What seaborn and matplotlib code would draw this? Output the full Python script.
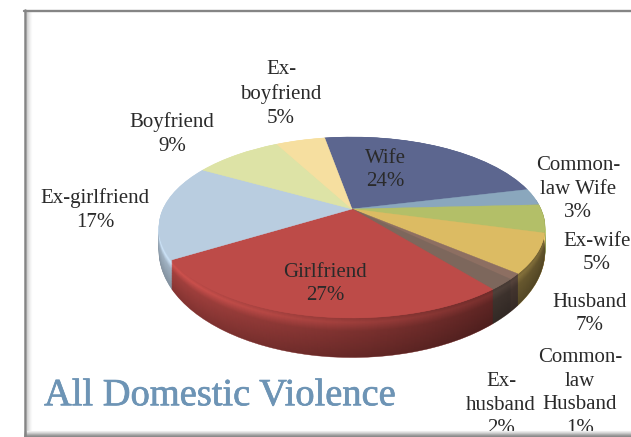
import numpy as np
import seaborn as sns
import matplotlib
matplotlib.use("Agg")
import matplotlib.pyplot as plt
import matplotlib.patheffects as pe
from matplotlib.path import Path
from matplotlib.transforms import Transform

# slices, clockwise from the top
names = ["Wife", "Common-\nlaw Wife", "Ex-wife", "Husband", "Common-\nlaw\nHusband",
         "Ex-\nhusband", "Girlfriend", "Ex-girlfriend", "Boyfriend", "Ex-\nboyfriend"]
shares = [24, 3, 5, 7, 1, 2, 27, 17, 9, 5]
colors = ["#5c668f", "#8aa7bd", "#b3bf68", "#dcbb63", "#8d6f62",
          "#7d675c", "#bd4b48", "#b9cde0", "#dde3a6", "#f6dfa0"]
title = "All Domestic Violence"

sns.set_theme(style="white", font="Liberation Serif")
pal = sns.color_palette(colors)

DROP = 20
GROW = 0.18


# perspective view of the unit circle pie, in pixel coordinates
class Tilt(Transform):
    input_dims = output_dims = 2
    is_separable = False
    has_inverse = False

    def __init__(self, drop=0.0, grow=0.0):
        super().__init__()
        self.drop = drop
        self.grow = grow

    def transform_non_affine(self, xy):
        xy = np.asarray(xy)
        w = 1 + 0.204 * xy[:, 1]
        return np.column_stack([352 + 189 * xy[:, 0] / w,
                                209 + self.drop - 86.7 * (1 + self.grow) * xy[:, 1] / w])


fig = plt.figure(figsize=(6.31, 4.37), dpi=100)
ax = fig.add_axes([0, 0, 1, 1])


def draw_pie(cols, tilt, z):
    wedges, _ = ax.pie(shares, colors=cols, startangle=100, counterclock=False)
    for w in wedges:
        w.set_edgecolor(w.get_facecolor())
        w.set_linewidth(0.3)
        w.set_transform(tilt + ax.transData)
        w.set_zorder(z)
    return wedges


# side of the pie: stacked copies, bright rim then darker going down
layers = 40
for i in range(layers, 0, -1):
    t = i / layers
    k = np.interp(t, [0, 0.12, 0.35, 1], [1.0, 1.12, 0.88, 0.72])
    cols = [tuple(min(1, c * k) for c in p) for p in pal]
    draw_pie(cols, Tilt(DROP * t, GROW * t), 2 + (layers - i) * 0.01)

# darker towards the right along the side
ang = np.radians(np.linspace(165, 375, 200))
ring = np.column_stack([np.cos(ang), np.sin(ang)])
band = np.vstack([Tilt().transform(ring), Tilt(DROP, GROW).transform(ring)[::-1]])
shade = np.zeros((2, 256, 4))
shade[:, :, 3] = np.interp(np.linspace(0, 1, 256), [0, 0.1, 0.5, 1], [0, 0.05, 0.25, 0.5])
im = ax.imshow(shade, extent=(159, 546, 360, 200), aspect="auto", zorder=3)
im.set_clip_path(Path(band), ax.transData)

# top face
draw_pie(pal, Tilt(), 4)

ax.set_xlim(0, 631)
ax.set_ylim(437, 0)
ax.set_aspect("auto")
ax.axis("off")

# data labels
label_pos = [(385, 170), (578, 189), (597, 253), (590, 314), (580, 393),
             (501, 405), (325, 284), (95, 210), (172, 134), (281, 94)]
for name, val, (x, y) in zip(names, shares, label_pos):
    ax.text(x, y, f"{name}\n{val}%", ha="center", va="center", fontsize=15,
            color="#2a2a2a", linespacing=1.32, zorder=6)

ax.text(44, 396, title, ha="left", va="center", fontsize=27.7, color="#6d94b5", zorder=6,
        path_effects=[pe.withStroke(linewidth=0.5, foreground="#6d94b5")])

# picture frame, with a soft inner shadow
for d, g in zip([1, 2, 3, 4, 5], ["#d2d2d2", "#dedede", "#e9e9e9", "#f2f2f2", "#f9f9f9"]):
    ax.plot([26 + d] * 2, [12, 430], color=g, lw=0.8, zorder=5)
for y, g in zip([430, 431, 432, 433, 434, 435, 436],
                ["#ececec", "#dcdcdc", "#c8c8c8", "#b0b0b0", "#9a9a9a", "#8c8c8c", "#888888"]):
    ax.plot([24, 631], [y + 0.5] * 2, color=g, lw=0.8, zorder=7)
ax.plot([24.8, 24.8], [9.5, 437], color="#858585", lw=1.8, zorder=7)
ax.plot([24, 631], [10.6, 10.6], color="#858585", lw=1.7, zorder=7)

fig.savefig("out.png", dpi=100)
